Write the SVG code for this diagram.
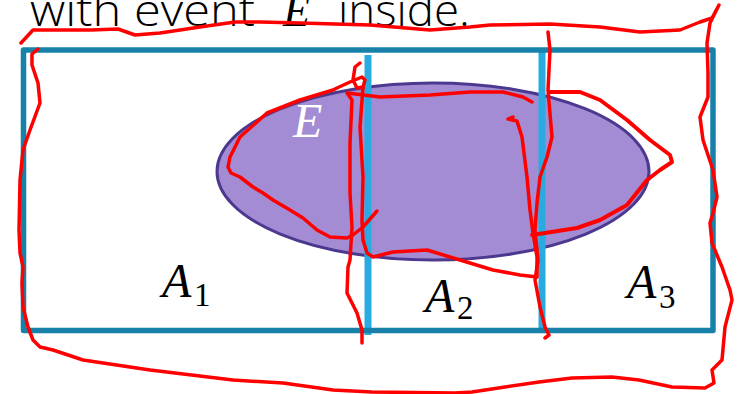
<svg xmlns="http://www.w3.org/2000/svg" width="745" height="394" viewBox="0 0 745 394">
<style>
.title{font-family:"Open Sans","Liberation Sans",sans-serif;font-weight:300;font-size:44px;fill:#000}
.math{font-family:"Liberation Serif","DejaVu Serif",serif;font-style:italic;font-size:48px;fill:#000}
.sub{font-family:"Liberation Serif","DejaVu Serif",serif;font-style:normal;font-size:33px;fill:#000}
.div{stroke:#29ABE2;stroke-width:7;fill:none}
.ink{fill:none;stroke:#FF0000;stroke-width:3.5;stroke-linecap:round;stroke-linejoin:round}
</style>
<rect width="745" height="394" fill="#FFFFFF"/>
<text class="title" y="26"><tspan x="30" textLength="225" lengthAdjust="spacingAndGlyphs">with event</tspan><tspan x="283" class="math" style="font-size:44px">E</tspan><tspan x="338" textLength="132" lengthAdjust="spacingAndGlyphs">inside.</tspan></text>
<g id="event-E">
<ellipse cx="433" cy="171.5" rx="216" ry="88.5" fill="#A38CD3" stroke="#4B3990" stroke-width="3"/>
<text class="math" x="293" y="137" style="fill:#FFFFFF">E</text>
</g>
<g id="partition-lines">
<line class="div" x1="368" y1="55" x2="368" y2="335"/>
<line class="div" x1="542" y1="50" x2="542" y2="333"/>
</g>
<g id="sample-space">
<rect x="23.5" y="50" width="689.5" height="280.5" fill="none" stroke="#1781AA" stroke-width="5.5" stroke-linejoin="round"/>
</g>
<g id="A1"><text class="math" x="162" y="297">A<tspan class="sub" x="194" y="306">1</tspan></text></g>
<g id="A2"><text class="math" x="425" y="312">A<tspan class="sub" x="457" y="319">2</tspan></text></g>
<g id="A3"><text class="math" x="627" y="298">A<tspan class="sub" x="659" y="308">3</tspan></text></g>
<g id="connectors"></g>
<g id="annotations">
<path class="ink" d="M38,49 L32,54 L32,65 L38,83 L40,103 L30,130 L23,150 L20,180 L19,230 L20,253 L23,267 L22,283 L23,307 L28,327 L33,340 L40,347 L53,350 L83,360 L150,370 L233,380 L283,383 L333,390 L372,392 L455,393 L472,392 L505,387 L539,382 L572,378 L612,377 L639,380 L672,387 L705,388 L714,383 L712,370 L722,360 L725,327 L732,300 L730,290 L722,267 L712,243 L710,223 L713,213 L717,197 L713,170 L703,140 L700,117 L708,97 L708,73 L707,43 L710,23 L719,5 L712,18 L700,22 L680,30 L640,32 L600,27 L550,24 L490,25 L470,27 L430,30 L370,25 L300,23 L260,22 L235,22 L200,27 L160,33 L135,35 L118,29 L90,30 L60,30 L33,30 L21,43"/>
<path class="ink" d="M360,63 L355,67 L353,80 L357,88 L363,87 L365,80 L362,77 L350,82 L337,88 L333,90 L300,100 L267,113 L240,137 L230,157 L228,167 L231,173 L240,177 L253,187 L263,193 L273,200 L290,210 L303,218 L317,230 L330,237 L347,238 L353,235 L363,227 L377,211"/>
<path class="ink" d="M532,102 L523,97 L503,92 L470,92 L430,95 L380,97 L347,93 L352,100 L350,143 L350,193 L352,227 L350,260 L348,267 L347,293 L357,313 L362,330 L362,343"/>
<path class="ink" d="M363,87 L360,127 L363,177 L362,220 L363,240 L367,253 L373,257 L393,252 L427,250 L460,260 L493,270 L520,275 L537,277 L537,257 L533,233 L530,210 L527,177 L522,137 L517,121 L508,119 L513,117"/>
<path class="ink" d="M548,32 L550,50 L548,90 L552,137 L547,157 L540,177 L537,203 L535,230 L538,260 L535,280 L540,307 L545,327 L549,335 L545,338"/>
<path class="ink" d="M532,235 L577,228 L600,220 L627,205 L647,180 L660,170 L672,162 L670,155 L650,140 L627,120 L600,100 L580,92 L550,92" style="stroke-width:4"/>
</g>
</svg>
